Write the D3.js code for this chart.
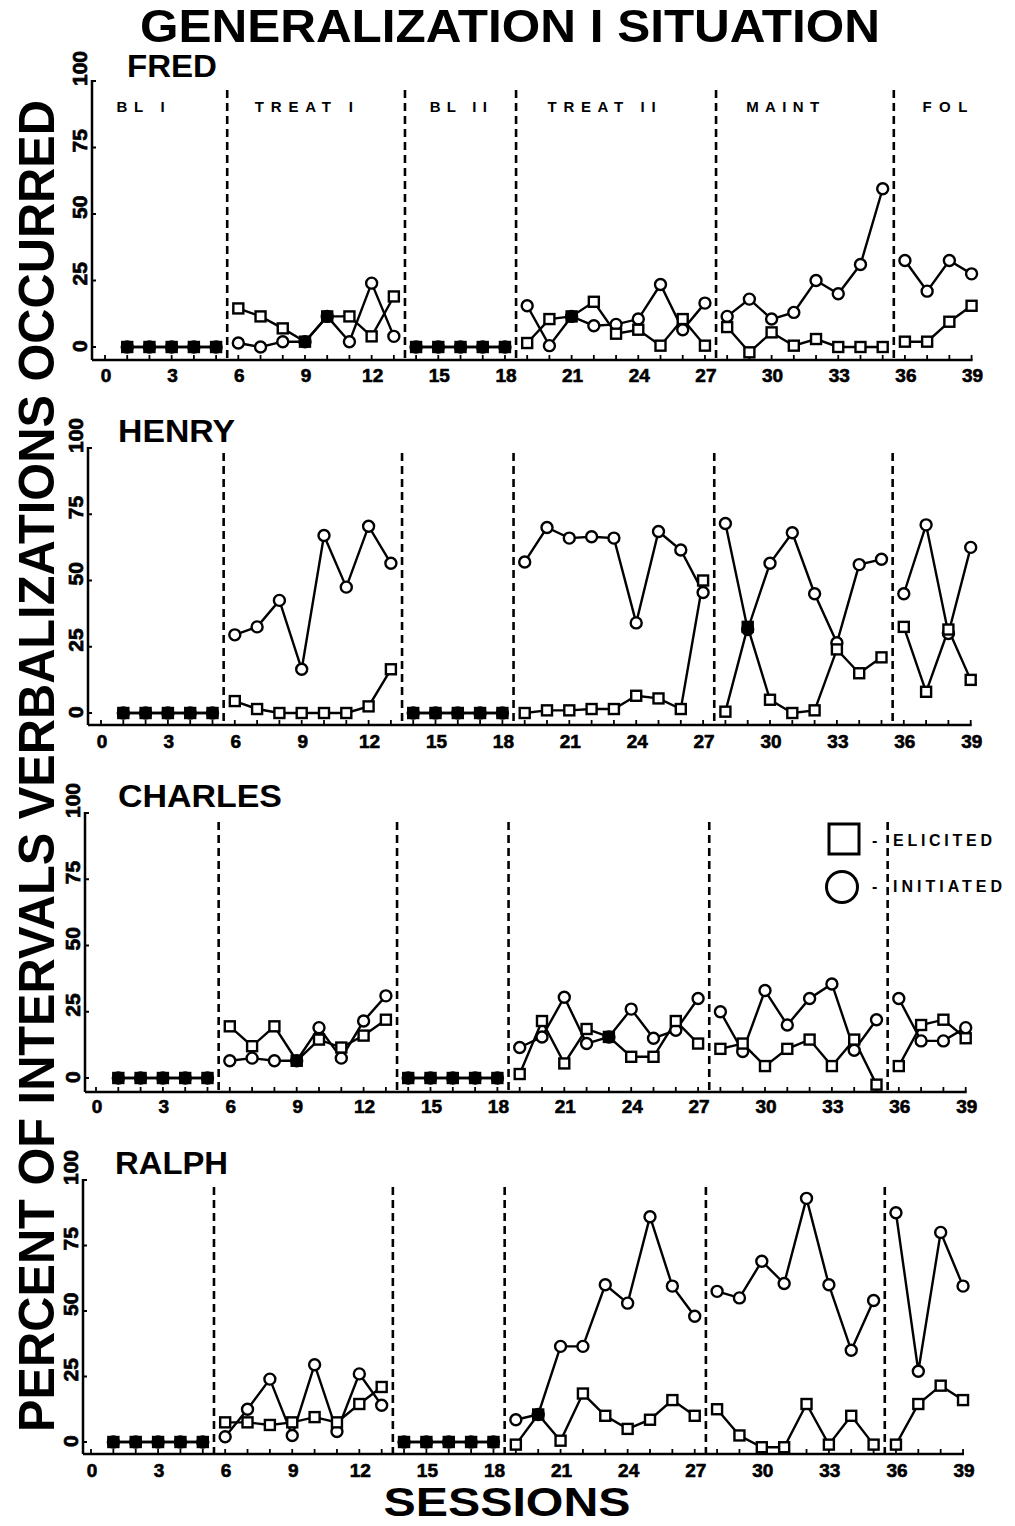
<!DOCTYPE html>
<html><head><meta charset="utf-8">
<script src="https://cdn.jsdelivr.net/npm/d3@7"></script>
<style>
body{margin:0;background:#fff}
svg{display:block}
text{font-family:"Liberation Sans",Arial,sans-serif;font-weight:bold;fill:#000}
</style>
</head><body>
<svg id="c" width="1015" height="1526"></svg>
<script>
// ---------------- DATA ----------------
const sessions = d3.range(1, 40);
const phaseBreaks = [5.5, 13.5, 18.5, 27.5, 35.5];
const phaseNames = ["BL I", "TREAT I", "BL II", "TREAT II", "MAINT", "FOL"];
const phaseRanges = [[1,5],[6,13],[14,18],[19,27],[28,35],[36,39]];
const xTickLabels = [0,3,6,9,12,15,18,21,24,27,30,33,36,39];
const yTickLabels = [0,25,50,75,100];
const subjects = ["FRED","HENRY","CHARLES","RALPH"];
const legendLabels = ["ELICITED","INITIATED"];

const fredElicited   = [0,0,0,0,0, 14.5,11.5,7,2,11.5,11.5,4,19, 0,0,0,0,0, 1.5,10.5,11.5,17,5,6.5,0.5,10.5,0.5, 7.5,-2,5.5,0.5,3,0,0,0, 2,2,9.5,15.5];
const fredInitiated  = [0,0,0,0,0, 1.5,0,2,2,11.5,2,24,4, 0,0,0,0,0, 15.5,0.5,11.5,8,8.5,10.5,23.5,6.5,16.5, 11.5,18,10.5,13,25,20,31,59.5, 32.5,21,32.5,27.5];

const henryElicited  = [0,0,0,0,0, 4.5,1.5,0,0,0,0,2.5,16.5, 0,0,0,0,0, 0,1,1,1.5,1.5,6.5,5.5,1.5,50, 0.5,32.5,5,0,1,24,15,21, 32.5,8,31.5,12.5];
const henryInitiated = [0,0,0,0,0, 29.5,32.5,42.5,16.5,67,47.5,70.5,56.5, 0,0,0,0,0, 57,70,66,66.5,66,34,68.5,61.5,45.5, 71.5,31.5,56.5,68,45,26.5,56,58, 45,71,30,62.5];

const charlesElicited  = [0,0,0,0,0, 19.5,12,19.5,6.5,14.5,11.5,16,22, 0,0,0,0,0, 1.5,21.5,5.5,18.5,15.5,8,8,21.5,13, 11,13,4.5,11,14.5,4.5,14.5,-2.5, 4.5,20,22,15];
const charlesInitiated = [0,0,0,0,0, 6.5,7.5,6.5,6.5,19,7.5,21.5,31, 0,0,0,0,0, 11.5,15.5,30.5,13,15.5,26,15,18,30, 25,10,33,20,30,35.5,10.5,22, 30,14,14,19];

const ralphElicited  = [0,0,0,0,0, 7.5,7.5,6.5,7.5,9.5,7.5,14.5,21, 0,0,0,0,0, -1,10.5,0.5,18.5,10,5,8.5,16,10, 12.5,2.5,-2,-2,14.5,-1,10,-1, -1,14.5,21.5,16];
const ralphInitiated = [0,0,0,0,0, 2,12.5,24,2.5,29.5,4,26,14, 0,0,0,0,0, 8.5,10.5,36.5,36.5,60,53,86,59.5,48, 57.5,55,69,60.5,93,60,35,54, 87.5,27,80,59.5];

const elicitedSeries  = [fredElicited, henryElicited, charlesElicited, ralphElicited];
const initiatedSeries = [fredInitiated, henryInitiated, charlesInitiated, ralphInitiated];

// ---------------- LAYOUT ----------------
const layout = [
  {axisX:92, x0:105, dx:22.22, y0:347,  y100:81,   axisY:360,  dashTop:90,   nameX:127, nameY:77,   nameW:90,  lblDy:22},
  {axisX:88, x0:101, dx:22.30, y0:713,  y100:448,  axisY:725,  dashTop:453,  nameX:118, nameY:442,  nameW:117, lblDy:23},
  {axisX:85, x0:96,  dx:22.30, y0:1078, y100:813,  axisY:1092, dashTop:822,  nameX:118, nameY:807,  nameW:164, lblDy:21},
  {axisX:83, x0:91,  dx:22.36, y0:1442, y100:1180, axisY:1454, dashTop:1187, nameX:115, nameY:1174, nameW:113, lblDy:23}
];
const phaseLabelPos = [1.6, 8.95, 15.9, 22.35, 30.5, 37.8];
const phaseLabelW = [48, 98, 57, 108, 73, 45];

const svg = d3.select("#c");

// Title
svg.append("text").attr("x", 510).attr("y", 42).attr("text-anchor","middle")
  .attr("font-size", 47).attr("textLength", 740).attr("lengthAdjust","spacingAndGlyphs")
  .text("GENERALIZATION I SITUATION");

// Y label
svg.append("text").attr("transform","translate(54,766) rotate(-90)").attr("text-anchor","middle")
  .attr("font-size", 50).attr("textLength", 1332).attr("lengthAdjust","spacingAndGlyphs")
  .text("PERCENT OF INTERVALS VERBALIZATIONS OCCURRED");

// X label
svg.append("text").attr("x", 507).attr("y", 1516).attr("text-anchor","middle")
  .attr("font-size", 40).attr("textLength", 247).attr("lengthAdjust","spacingAndGlyphs")
  .text("SESSIONS");

subjects.forEach((name, p) => {
  const L = layout[p];
  const x = d3.scaleLinear().domain([0, 39]).range([L.x0, L.x0 + 39 * L.dx]);
  const y = d3.scaleLinear().domain([0, 100]).range([L.y0, L.y100]);
  const g = svg.append("g");
  const el = elicitedSeries[p], ini = initiatedSeries[p];

  // name
  g.append("text").attr("x", L.nameX).attr("y", L.nameY).attr("font-size", 32)
    .attr("textLength", L.nameW).attr("lengthAdjust","spacingAndGlyphs").text(name);

  // y axis
  g.append("line").attr("x1", L.axisX).attr("x2", L.axisX).attr("y1", L.y100 - 1).attr("y2", L.axisY)
    .attr("stroke","#000").attr("stroke-width", 2.5);
  yTickLabels.forEach(t => {
    g.append("line").attr("x1", L.axisX).attr("x2", L.axisX + 4).attr("y1", y(t)).attr("y2", y(t))
      .attr("stroke","#000").attr("stroke-width", 2);
    g.append("text").attr("transform", `translate(${L.axisX - 5},${y(t) + 5}) rotate(-90)`)
      .attr("text-anchor","start").attr("font-size", 21).attr("font-weight","normal")
      .attr("stroke","#000").attr("stroke-width",0.7).text(t);
  });

  // x axis
  g.append("line").attr("x1", L.axisX).attr("x2", x(39) + 1).attr("y1", L.axisY).attr("y2", L.axisY)
    .attr("stroke","#000").attr("stroke-width", 2.5);
  d3.range(0, 40).forEach(s => {
    g.append("line").attr("x1", x(s)).attr("x2", x(s)).attr("y1", L.axisY).attr("y2", L.axisY - 5)
      .attr("stroke","#000").attr("stroke-width", 1.8);
  });
  xTickLabels.forEach(t => {
    g.append("text").attr("x", x(t) + 1).attr("y", L.axisY + L.lblDy).attr("text-anchor","middle")
      .attr("font-size", 19).attr("font-weight","normal").attr("stroke","#000").attr("stroke-width",0.6)
      .text(t);
  });

  // phase lines
  phaseBreaks.forEach(b => {
    g.append("line").attr("x1", x(b)).attr("x2", x(b)).attr("y1", L.dashTop).attr("y2", L.axisY)
      .attr("stroke","#000").attr("stroke-width", 2.6).attr("stroke-dasharray","8,5");
  });

  // phase labels (first panel only)
  if (p === 0) {
    phaseNames.forEach((n, i) => {
      g.append("text").attr("x", x(phaseLabelPos[i])).attr("y", 112).attr("text-anchor","middle")
        .attr("font-size", 15).attr("textLength", phaseLabelW[i]).attr("lengthAdjust","spacing").text(n);
    });
  }

  // lines per phase
  const line = d3.line().x(d => x(d[0])).y(d => y(d[1]));
  [ini, el].forEach(series => {
    phaseRanges.forEach(([a, b]) => {
      const pts = sessions.filter(s => s >= a && s <= b).map(s => [s, series[s - 1]]);
      g.append("path").attr("d", line(pts)).attr("fill","none").attr("stroke","#000").attr("stroke-width", 2.4);
    });
  });

  // markers
  sessions.forEach((s, i) => {
    const same = Math.abs(el[i] - ini[i]) < 1.2;
    g.append("circle").attr("cx", x(s)).attr("cy", y(ini[i])).attr("r", 5.5)
      .attr("fill", same ? "#000" : "#fff").attr("stroke","#000").attr("stroke-width", 2.4);
  });
  sessions.forEach((s, i) => {
    const same = Math.abs(el[i] - ini[i]) < 1.2;
    g.append("rect").attr("x", x(s) - 5).attr("y", y(el[i]) - 5).attr("width", 10).attr("height", 10)
      .attr("fill", same ? "#000" : "#fff").attr("stroke","#000").attr("stroke-width", 2.4);
  });

  // legend in third panel
  if (p === 2) {
    g.append("rect").attr("x", 829).attr("y", 824).attr("width", 30).attr("height", 30)
      .attr("fill","#fff").attr("stroke","#000").attr("stroke-width", 3);
    g.append("circle").attr("cx", 842).attr("cy", 887).attr("r", 15.5)
      .attr("fill","#fff").attr("stroke","#000").attr("stroke-width", 3);
    [840, 886].forEach((yy, k) => {
      g.append("text").attr("x", 872).attr("y", yy + 6).attr("font-size", 16).text("-");
      g.append("text").attr("x", 893).attr("y", yy + 6).attr("font-size", 16)
        .attr("textLength", k === 0 ? 99 : 109).attr("lengthAdjust","spacing").text(legendLabels[k]);
    });
  }
});
</script>
</body></html>
